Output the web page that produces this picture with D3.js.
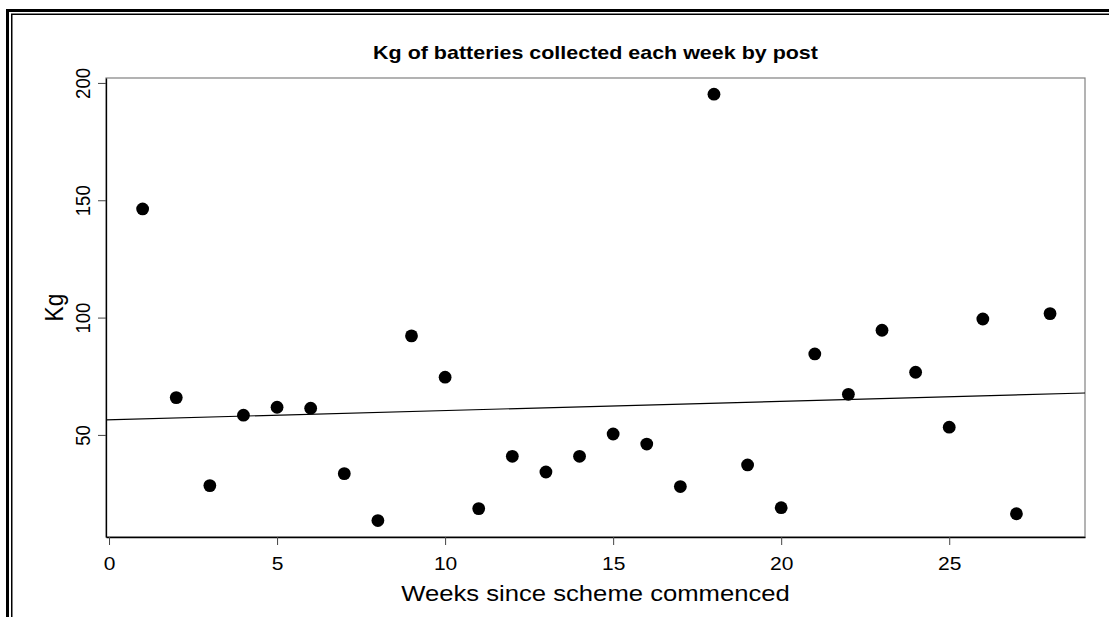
<!DOCTYPE html>
<html>
<head>
<meta charset="utf-8">
<script src="https://cdn.jsdelivr.net/npm/d3@7"></script>
<style>
  body { margin: 0; background: #fff; }
  svg { display: block; }
  text { font-family: "Liberation Sans", Arial, sans-serif; fill: #000; }
</style>
</head>
<body>
<div class="canvas"></div>
<script>
// data
const weeks = [1, 2, 3, 4, 5, 6, 7, 8, 9, 10, 11, 12, 13, 14,
               15, 16, 17, 18, 19, 20, 21, 22, 23, 24, 25, 26, 27, 28];
const kg = [146.3, 65.9, 28.4, 58.4, 61.8, 61.4, 33.5, 13.5, 92.2, 74.6, 18.6, 40.9, 34.2, 40.9,
            50.4, 46.1, 28.0, 195.2, 37.2, 19.0, 84.5, 67.3, 94.6, 76.7, 53.3, 99.4, 16.4, 101.7];
const xTicks = [0, 5, 10, 15, 20, 25];
const yTicks = [50, 100, 150, 200];

const titleText = 'Kg of batteries collected each week by post';
const xLabel = 'Weeks since scheme commenced';
const yLabel = 'Kg';

const width = 1109, height = 617;
const margin = {top: 78, right: 24, bottom: 80, left: 106};
const graphWidth = width - margin.left - margin.right;
const graphHeight = height - margin.top - margin.bottom;
const stretch = 1.13; // text in the picture is a little wide

const svg = d3.select('.canvas')
    .append('svg')
    .attr('width', width)
    .attr('height', height);

// double frame round the whole picture
svg.append('rect')
    .attr('x', 7.5).attr('y', 10.5)
    .attr('width', width + 20).attr('height', height + 20)
    .attr('fill', 'none').attr('stroke', '#000').attr('stroke-width', 3);
svg.append('rect')
    .attr('x', 11.75).attr('y', 14.25)
    .attr('width', width + 20).attr('height', height + 20)
    .attr('fill', 'none').attr('stroke', '#000').attr('stroke-width', 1.5);

const graph = svg.append('g')
    .attr('transform', `translate(${margin.left}, ${margin.top})`);

const x = d3.scaleLinear().domain([-0.09, 29.04]).range([0, graphWidth]);
const y = d3.scaleLinear().domain([6.5, 202.1]).range([graphHeight, 0]);

graph.append('rect')
    .attr('x', 0).attr('y', 0)
    .attr('width', graphWidth).attr('height', graphHeight)
    .attr('fill', 'none').attr('stroke', '#808080').attr('stroke-width', 1.2);

const xAxisGroup = graph.append('g')
    .attr('transform', `translate(0, ${graphHeight})`)
    .call(d3.axisBottom(x).tickValues(xTicks).tickSize(8).tickSizeOuter(0));
const yAxisGroup = graph.append('g')
    .call(d3.axisLeft(y).tickValues(yTicks).tickSize(8).tickSizeOuter(0));

[xAxisGroup, yAxisGroup].forEach(g => {
    g.select('.domain').attr('stroke', '#000').attr('stroke-width', 1.3);
    g.selectAll('.tick line').attr('stroke', '#444').attr('stroke-width', 1);
    g.selectAll('text')
        .attr('x', 0).attr('y', 0).attr('dy', 0)
        .attr('text-anchor', 'middle')
        .attr('font-size', 18.6)
        .attr('font-family', '"Liberation Sans", Arial, sans-serif')
        .attr('fill', '#000');
});
xAxisGroup.selectAll('text')
    .attr('transform', `translate(0, 33) scale(${stretch}, 1)`);
yAxisGroup.selectAll('text')
    .attr('transform', `translate(-16, 0) scale(${stretch}, 1) rotate(-90)`);

// least squares line through the points
const mx = d3.mean(weeks), my = d3.mean(kg);
const slope = d3.sum(weeks, (w, i) => (w - mx) * (kg[i] - my)) / d3.sum(weeks, w => (w - mx) ** 2);
const intercept = my - slope * mx;
const fit = x.domain().map(w => ({w, v: intercept + slope * w}));

graph.append('path')
    .datum(fit)
    .attr('fill', 'none')
    .attr('stroke', '#000')
    .attr('stroke-width', 1.2)
    .attr('d', d3.line().x(d => x(d.w)).y(d => y(d.v)));

graph.selectAll('circle')
    .data(weeks)
    .enter()
    .append('circle')
    .attr('cx', (d, i) => x(d))
    .attr('cy', (d, i) => y(kg[i]))
    .attr('r', 6.4)
    .attr('fill', '#000');

// title and axis labels
graph.append('text')
    .attr('transform', `translate(${graphWidth / 2}, -19) scale(${stretch}, 1)`)
    .attr('text-anchor', 'middle')
    .attr('font-size', 19)
    .attr('font-weight', 'bold')
    .text(titleText);

graph.append('text')
    .attr('transform', `translate(${graphWidth / 2}, ${graphHeight + 63.5}) scale(${stretch}, 1)`)
    .attr('text-anchor', 'middle')
    .attr('font-size', 22.7)
    .text(xLabel);

graph.append('text')
    .attr('transform', `translate(-43, ${graphHeight / 2}) scale(${stretch}, 1) rotate(-90)`)
    .attr('text-anchor', 'middle')
    .attr('font-size', 22.7)
    .text(yLabel);
</script>
</body>
</html>
